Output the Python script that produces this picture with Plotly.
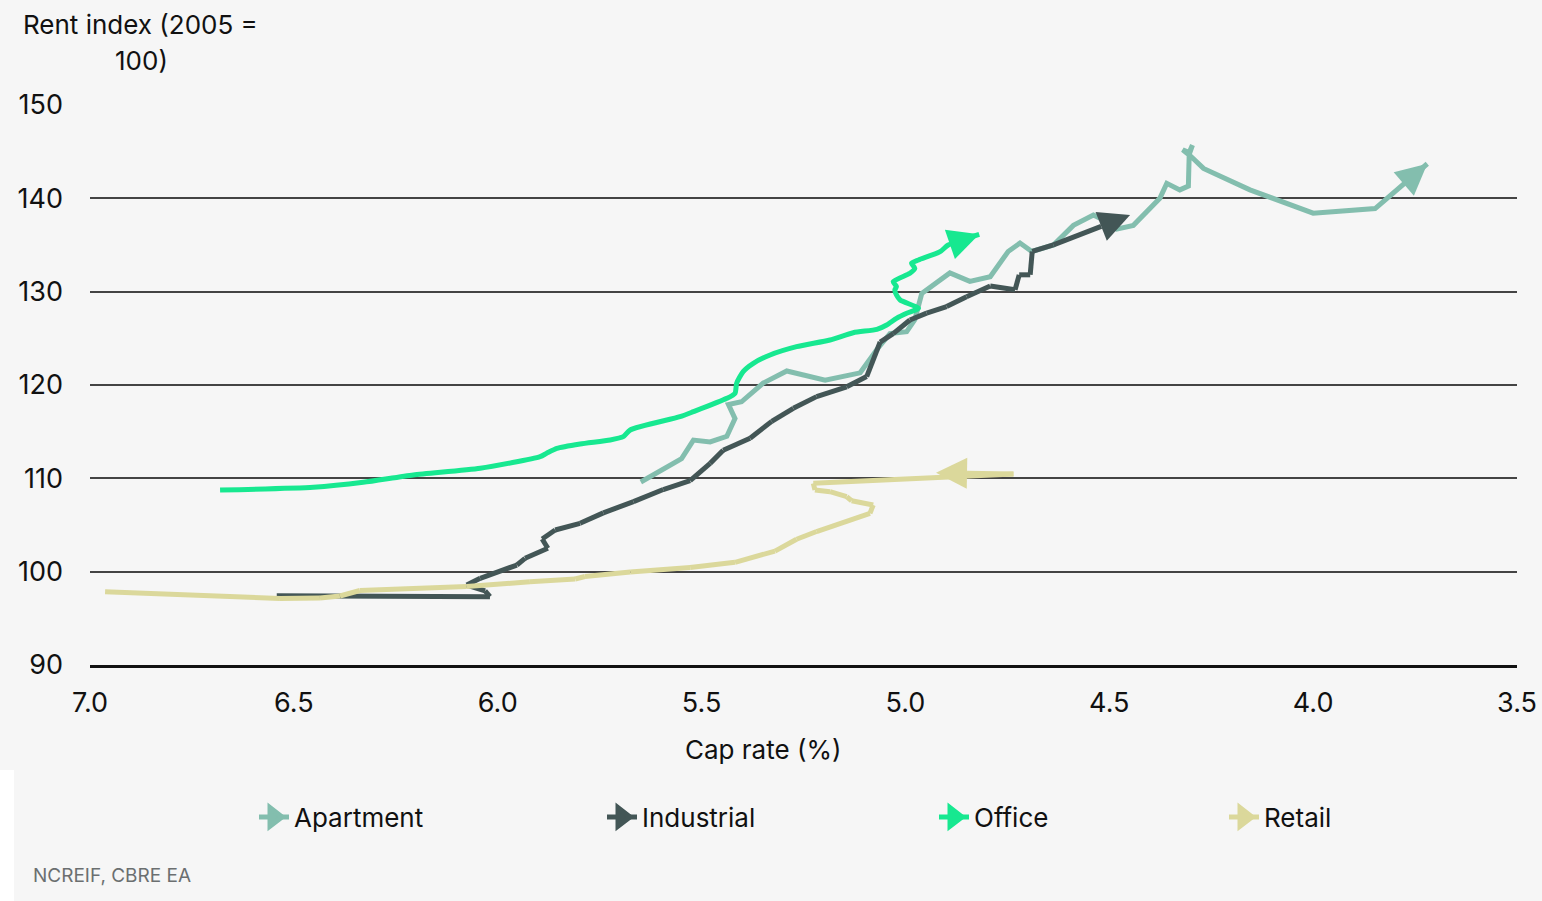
import plotly.graph_objects as go

# ---------------- data ----------------
series_names = ["Apartment", "Industrial", "Office", "Retail"]
series_colors = ["#83BEAE", "#435656", "#17E890", "#DBD89B"]

apartment_cap = [5.649, 5.549, 5.520, 5.479, 5.438, 5.418, 5.434, 5.402, 5.349, 5.291,
                 5.197, 5.111, 5.070, 5.038, 4.997, 4.977, 4.960, 4.891, 4.842, 4.792,
                 4.748, 4.719, 4.690, 4.637, 4.588, 4.539, 4.515, 4.482, 4.441, 4.376,
                 4.359, 4.327, 4.306, 4.304, 4.296, 4.304, 4.320, 4.300, 4.269, 4.155,
                 4.000, 3.848, 3.720]
apartment_rent = [109.6, 112.1, 114.1, 113.9, 114.5, 116.4, 117.9, 118.2, 120.2, 121.5,
                  120.5, 121.3, 123.8, 125.5, 125.7, 127.0, 129.8, 132.0, 131.1, 131.6,
                  134.3, 135.2, 134.3, 135.0, 137.1, 138.2, 137.7, 136.7, 137.1, 140.0,
                  141.6, 140.9, 141.3, 144.7, 145.7, 144.9, 145.2, 144.5, 143.2, 140.9,
                  138.4, 138.9, 143.7]

industrial_cap = [6.542, 6.019, 6.031, 6.076, 6.043, 5.953, 5.933, 5.877, 5.891, 5.859,
                  5.798, 5.741, 5.667, 5.594, 5.528, 5.479, 5.447, 5.381, 5.328, 5.275,
                  5.218, 5.144, 5.095, 5.062, 5.030, 4.989, 4.948, 4.899, 4.850, 4.792,
                  4.731, 4.721, 4.694, 4.689, 4.637, 4.449]
industrial_rent = [97.42, 97.32, 97.93, 98.57, 99.29, 100.71, 101.43, 102.5, 103.5, 104.46,
                   105.18, 106.3, 107.5, 108.8, 109.75, 111.6, 113.0, 114.3, 116.1, 117.5,
                   118.75, 119.8, 120.9, 124.6, 125.5, 126.96, 127.7, 128.4, 129.46, 130.6,
                   130.2, 131.8, 131.8, 134.3, 135.0, 138.2]

office_cap = [6.681, 6.452, 6.330, 6.207, 6.043, 5.896, 5.880, 5.855, 5.798, 5.724,
              5.692, 5.675, 5.553, 5.520, 5.438, 5.418, 5.414, 5.398, 5.373, 5.332,
              5.267, 5.185, 5.128, 5.070, 5.046, 5.022, 4.997, 4.968, 5.013, 5.022,
              5.026, 5.022, 5.030, 4.989, 4.977, 4.985, 4.968, 4.915, 4.895, 4.819]
office_rent = [108.75, 109.04, 109.57, 110.36, 111.07, 112.32, 112.68, 113.21, 113.68, 114.11,
               114.46, 115.18, 116.6, 117.14, 118.57, 119.11, 120.18, 121.43, 122.32, 123.21,
               124.1, 124.82, 125.6, 125.96, 126.43, 127.14, 127.68, 128.21, 129.1, 129.64,
               130.18, 130.54, 131.07, 131.96, 132.5, 133.04, 133.39, 134.28, 135.0, 136.14]

retail_cap = [6.963, 6.534, 6.436, 6.387, 6.338, 6.076, 5.921, 5.810, 5.786, 5.675,
              5.528, 5.418, 5.320, 5.267, 5.218, 5.160, 5.087, 5.079, 5.132, 5.144,
              5.185, 5.222, 5.226, 4.735, 4.925]
retail_rent = [97.85, 97.12, 97.18, 97.39, 97.98, 98.41, 98.92, 99.21, 99.48, 99.96,
               100.44, 101.0, 102.2, 103.47, 104.3, 105.2, 106.25, 107.14, 107.6, 108.03,
               108.57, 108.75, 109.46, 110.46, 110.6]

x_ticks = [7.0, 6.5, 6.0, 5.5, 5.0, 4.5, 4.0, 3.5]
y_ticks = [90, 100, 110, 120, 130, 140, 150]

y_title_lines = ["Rent index (2005 =", "100)"]
x_title = "Cap rate (%)"
source_text = "NCREIF, CBRE EA"

# ---------------- figure ----------------
FONT = "Inter, Roboto, sans-serif"
TXT = "#111111"
W, H = 1542, 901
L, R, T, B = 90, 25, 104, 236

xs = [apartment_cap, industrial_cap, office_cap, retail_cap]
ys = [apartment_rent, industrial_rent, office_rent, retail_rent]
shapes_line = ["linear", "linear", "spline", "linear"]

fig = go.Figure()
ARROW = 31
LW = 5
for name, color, x, y, shp in zip(series_names, series_colors, xs, ys, shapes_line):
    n = len(x)
    fig.add_trace(go.Scatter(
        x=x, y=y, mode="lines+markers", name=name, showlegend=False,
        line=dict(color=color, width=LW, shape=shp, smoothing=0.6),
        marker=dict(symbol="arrow-up", angleref="previous", opacity=1,
                    size=[0] * (n - 1) + [ARROW], color=color, line=dict(width=0)),
        hoverinfo="skip",
    ))

# legend entries (one legend per entry so their positions match the reference)
text_starts = [295, 643, 975, 1265]
legend_ids = ["legend", "legend2", "legend3", "legend4"]
for name, color, lid in zip(series_names, series_colors, legend_ids):
    fig.add_trace(go.Scatter(
        x=[None], y=[None], mode="lines+markers", name=name, legend=lid,
        line=dict(color=color, width=LW),
        marker=dict(symbol="triangle-right", size=16, color=color,
                    line=dict(color=color, width=5)),
    ))

plot_w = W - L - R
plot_h = H - T - B

def px_x(px):
    return (px - L) / plot_w

def px_y(py):
    return (H - B - py) / plot_h

legend_layout = {}
for lid, ts in zip(legend_ids, text_starts):
    legend_layout[lid] = dict(
        x=px_x(ts - 41), y=px_y(817), xanchor="left", yanchor="middle",
        orientation="h", bgcolor="rgba(0,0,0,0)", borderwidth=0,
        font=dict(family=FONT, size=26, color=TXT),
        itemwidth=30,
    )

annotations = [
    dict(text=y_title_lines[0], x=px_x(140), y=px_y(24), xref="paper", yref="paper",
         xanchor="center", yanchor="middle", showarrow=False,
         font=dict(family=FONT, size=26, color=TXT)),
    dict(text=y_title_lines[1], x=px_x(141), y=px_y(61), xref="paper", yref="paper",
         xanchor="center", yanchor="middle", showarrow=False,
         font=dict(family=FONT, size=26, color=TXT)),
    dict(text=x_title, x=px_x(763), y=px_y(749), xref="paper", yref="paper",
         xanchor="center", yanchor="middle", showarrow=False,
         font=dict(family=FONT, size=26, color=TXT)),
    dict(text=source_text, x=px_x(31), y=px_y(876), xref="paper", yref="paper",
         xanchor="left", yanchor="middle", showarrow=False,
         font=dict(family=FONT, size=19, color="#6b6f70")),
]

# white page margin strip at the lower-left edge of the card
shapes = [
    dict(type="rect", xref="paper", yref="paper", layer="below",
         x0=px_x(0), x1=px_x(14), y0=px_y(H), y1=px_y(770),
         fillcolor="#ffffff", line=dict(width=0)),
]

fig.update_layout(
    width=W, height=H,
    margin=dict(l=L, r=R, t=T, b=B, pad=0, autoexpand=False),
    paper_bgcolor="#f6f6f6", plot_bgcolor="#f6f6f6",
    font=dict(family=FONT, size=26, color=TXT),
    annotations=annotations,
    shapes=shapes,
    **legend_layout,
)

fig.update_xaxes(
    range=[7.0, 3.5], tickvals=x_ticks, ticktext=[f"{v:.1f}" for v in x_ticks],
    showgrid=False, zeroline=False, showline=True, linecolor=TXT, linewidth=2.5,
    ticks="", ticklabelstandoff=12, tickfont=dict(family=FONT, size=27, color=TXT),
)
fig.update_yaxes(
    range=[90, 150.1], tickvals=y_ticks, showgrid=True, gridcolor="#444444", gridwidth=1.5,
    zeroline=False, showline=False, ticks="", ticklabelstandoff=26,
    tickfont=dict(family=FONT, size=27, color=TXT),
)

fig.write_html("out.html")
